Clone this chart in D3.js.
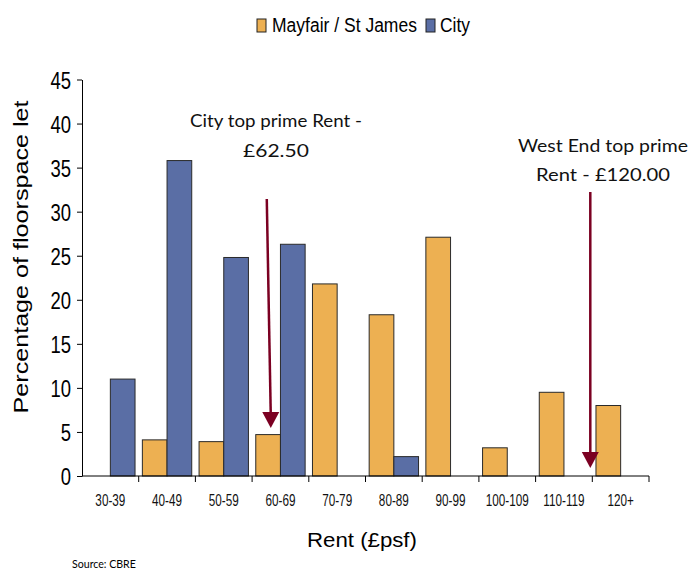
<!DOCTYPE html>
<html><head><meta charset="utf-8">
<script src="https://cdn.jsdelivr.net/npm/d3@7"></script>
<style>body{margin:0;background:#fff}svg{display:block}</style>
</head><body>
<script>
const categories = ["30-39","40-49","50-59","60-69","70-79","80-89","90-99","100-109","110-119","120+"];
const seriesNames = ["Mayfair / St James","City"];
const mayfair = [0, 4.1, 3.9, 4.7, 21.8, 18.3, 27.1, 3.2, 9.5, 8.0];
const city    = [11.0, 35.8, 24.8, 26.3, 0, 2.2, 0, 0, 0, 0];
const yTicks = [0,5,10,15,20,25,30,35,40,45];
const colors = ["#EDB052","#5A6EA5"];
const annoLabels = [["City top prime Rent -","£62.50"],["West End top prime","Rent - £120.00"]];
const annoRent = [62.5, 120.0];

const W=694,H=572;
const svg=d3.select("body").append("svg").attr("width",W).attr("height",H);
const x=d3.scaleBand().domain(categories).range([82,649]).paddingInner(0).paddingOuter(0);
const xs=d3.scaleBand().domain(seriesNames).range([0,x.bandwidth()]).paddingInner(0).paddingOuter(0.1485);
const y=d3.scaleLinear().domain([0,45]).range([476,79.5]);
const arial='"Liberation Sans",Arial,sans-serif';
const geo='Lato,"Noto Sans",sans-serif';

function hscale(sel,f,pre){
  sel.each(function(){
    const s=d3.select(this);
    const tx=+s.attr("x")||0, ty=+s.attr("y")||0;
    s.attr("x",0).attr("y",0)
     .attr("transform",(pre||"")+`translate(${tx},${ty}) scale(${f},1)`);
  });
}
function fitW(sel,w,pre){
  const f=w/sel.node().getComputedTextLength();
  hscale(sel,f,pre);
}

// bars
[mayfair,city].forEach((vals,si)=>{
  svg.append("g").selectAll("rect").data(vals.map((v,i)=>({v,c:categories[i]})).filter(d=>d.v>0))
    .join("rect")
    .attr("x",d=>x(d.c)+xs(seriesNames[si]))
    .attr("y",d=>y(d.v))
    .attr("width",xs.bandwidth())
    .attr("height",d=>y(0)-y(d.v))
    .attr("fill",colors[si]).attr("stroke","#2a2a2a").attr("stroke-width",1);
});

// y axis
const ya=svg.append("g").attr("transform","translate(82,0)")
  .call(d3.axisLeft(y).tickValues(yTicks).tickSize(5).tickSizeOuter(0).tickPadding(6));
ya.select(".domain").attr("stroke","#000");
ya.selectAll(".tick line").attr("stroke","#000");
ya.selectAll("text").attr("font-family",arial).attr("font-size",24).attr("fill","#000").attr("dy","0.36em");
hscale(ya.selectAll("text"),0.77);

// x axis
const xa=svg.append("g").attr("transform","translate(0,476)");
xa.append("line").attr("x1",82).attr("x2",649).attr("stroke","#000");
const bounds=categories.map(c=>x(c)).concat([x.range()[1]]);
xa.selectAll("line.t").data(bounds.slice(1)).join("line").attr("class","t")
  .attr("x1",d=>d).attr("x2",d=>d).attr("y1",0).attr("y2",6).attr("stroke","#000");
const xl=xa.selectAll("text").data(categories).join("text")
  .attr("x",d=>x(d)+x.bandwidth()/2).attr("y",30)
  .attr("text-anchor","middle").attr("font-family",arial).attr("font-size",17).attr("fill","#111")
  .text(d=>d);
hscale(xl,0.69);

// axis titles
const yt=svg.append("text").attr("text-anchor","middle").attr("font-family",arial).attr("font-size",21)
  .attr("fill","#000").text("Percentage of floorspace let");
fitW(yt,313,"translate(28,257) rotate(-90) ");
const xt=svg.append("text").attr("x",362).attr("y",547).attr("text-anchor","middle")
  .attr("font-family",arial).attr("font-size",20).attr("fill","#000").text("Rent (£psf)");
fitW(xt,110);
const src=svg.append("text").attr("x",72).attr("y",567.5).attr("font-family",geo)
  .attr("font-size",11.5).attr("fill","#000").text("Source: CBRE");
fitW(src,64);

// legend
const legendPos=[{sx:257,tx:272,w:145},{sx:426,tx:440,w:30}];
seriesNames.forEach((n,i)=>{
  const p=legendPos[i];
  svg.append("rect").attr("x",p.sx).attr("y",19).attr("width",9).attr("height",13)
    .attr("fill",colors[i]).attr("stroke","#222").attr("stroke-width",1);
  const t=svg.append("text").attr("x",p.tx).attr("y",31.7).attr("font-family",arial).attr("font-size",21)
    .attr("fill","#000").text(n);
  fitW(t,p.w);
});

// annotation arrows
const arrowCol="#7B0022";
const rentX=r=>{
  const idx=Math.min(Math.floor((r-30)/10),categories.length-1);
  return x(categories[idx])+((r-30)/10-idx)*x.bandwidth();
};
const arrowGeom=[{top:199,tip:428,dx:[0.5,4.5]},{top:192,tip:468,dx:[-2,-2]}];
annoRent.forEach((r,k)=>{
  const g=arrowGeom[k];
  const xb=rentX(r);
  const x0=xb+g.dx[0], x1=xb+g.dx[1];
  svg.append("line").attr("x1",x0).attr("y1",g.top).attr("x2",x1).attr("y2",g.tip-12)
    .attr("stroke",arrowCol).attr("stroke-width",2.5);
  svg.append("path").attr("d",`M${x1-8.5},${g.tip-16}L${x1+8.5},${g.tip-16}L${x1},${g.tip}Z`).attr("fill",arrowCol);
});
const labPos=[{x:276,y:[127,156.5],w:[172,66]},{x:603,y:[152,181],w:[170,134]}];
annoLabels.forEach((lines,k)=>{
  lines.forEach((t,j)=>{
    const el=svg.append("text").attr("x",labPos[k].x).attr("y",labPos[k].y[j]).attr("text-anchor","middle")
      .attr("font-family",geo).attr("font-size",17).attr("fill","#111").text(t);
    fitW(el,labPos[k].w[j]);
  });
});
</script>
</body></html>
